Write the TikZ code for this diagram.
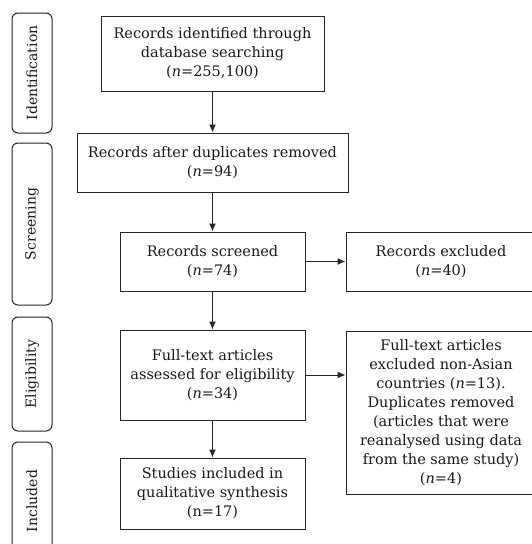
\documentclass[tikz,border=0pt]{standalone}
\usepackage{fontspec}
\setmainfont{DejaVu Serif}
\usepackage{tikz}
\usetikzlibrary{arrows.meta,calc}

\begin{document}
\begin{tikzpicture}[x=1pt,y=-1pt]
	\path [use as bounding box] (0,0) rectangle (531,544);
	\tikzstyle{every node} = [font=\fontsize{14.5}{19}\selectfont, text=black!90]
	\tikzstyle{box} = [draw=black!85, line width=1pt, align=center, inner sep=1pt]
	\tikzstyle{stage} = [draw=black!85, line width=1pt, rounded corners=6pt, rotate=90, minimum height=40pt, inner sep=0pt, font=\fontsize{14}{17}\selectfont]
	\tikzstyle{flow} = [draw=black!85, line width=1pt, -{Latex[length=8pt,width=7pt]}]
	% phases
	\node[stage, minimum width=120pt] (ident) at (32,73) {Identification};
	\node[stage, minimum width=162pt] (screen) at (32,224) {Screening};
	\node[stage, minimum width=114pt] (elig) at (32,374) {Eligibility};
	\node[stage, minimum width=118pt] (incl) at (32,501) {Included};
	% boxes
	\node[box, minimum width=223pt, minimum height=75pt] (found) at (212.5,53.5)
		{Records identified through\\database searching\\(\textit{n}=255,100)};
	\node[box, minimum width=271pt, minimum height=59pt] (dedup) at (212.5,162.5)
		{Records after duplicates removed\\(\textit{n}=94)};
	\node[box, minimum width=185pt, minimum height=59pt] (screened) at (212.5,261.5)
		{Records screened\\(\textit{n}=74)};
	\node[box, minimum width=190pt, minimum height=59pt] (excl) at (441,261.5)
		{Records excluded\\(\textit{n}=40)};
	\node[box, minimum width=185pt, minimum height=90pt] (assessed) at (212.5,375)
		{Full-text articles\\assessed for eligibility\\(\textit{n}=34)};
	\node[box, minimum width=190pt, minimum height=163pt] (fullexcl) at (441,412.5)
		{Full-text articles\\excluded non-Asian\\countries (\textit{n}=13).\\Duplicates removed\\(articles that were\\reanalysed using data\\from the same study)\\(\textit{n}=4)};
	\node[box, minimum width=185pt, minimum height=71pt] (studies) at (212.5,493.5)
		{Studies included in\\qualitative synthesis\\(n=17)};
	% arrows
	\draw[flow] (found) -- (dedup);
	\draw[flow] (dedup) -- (screened);
	\draw[flow] (screened) -- (excl);
	\draw[flow] (screened) -- (assessed);
	\draw[flow] (assessed.east) -- (assessed.east -| fullexcl.west);
	\draw[flow] (assessed) -- (studies);
\end{tikzpicture}
\end{document}
